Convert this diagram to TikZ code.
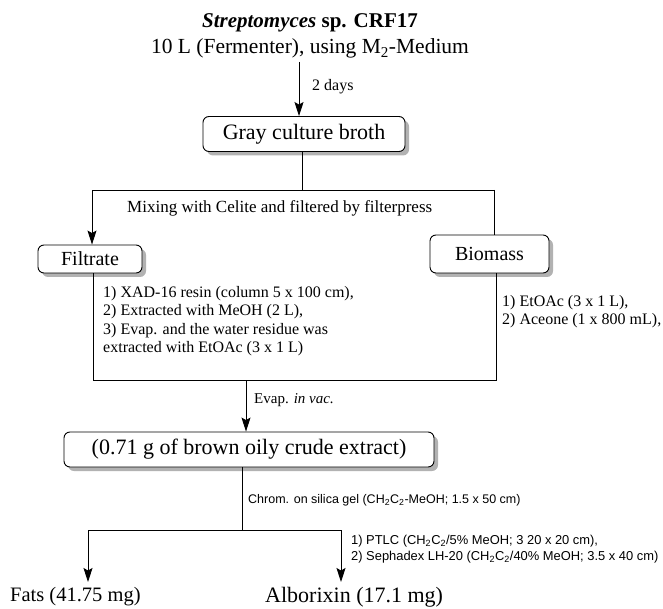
\documentclass[tikz,border=0pt]{standalone}
\usepackage{fontspec}
\setmainfont{Liberation Serif}
\newfontfamily\arialf{Liberation Sans}
\usetikzlibrary{arrows.meta,shadows}
\tikzset{
  ln/.style={line width=0.9pt},
  arr/.style={ln,-{Stealth[length=14pt,width=9pt,inset=2.5pt]}},
  rbox/.style={draw,ln,rounded corners=6pt,fill=white,inner sep=0pt,
    drop shadow={shadow xshift=4pt,shadow yshift=-4pt,fill=black!30,opacity=1}},
  lbl/.style={inner sep=0pt},
}
\newcommand{\fs}[2]{\fontsize{#1}{#2}\selectfont}
\begin{document}
\begin{tikzpicture}[x=1pt,y=-1pt]
\useasboundingbox (0,0) rectangle (663,609);
% top texts
\node[lbl,anchor=base] (title) at (310,28) {\fs{21}{24}\textbf{\textit{Streptomyces} sp. CRF17}};
\node[lbl,anchor=base] (medium) at (310,54) {\fs{21.5}{24}10 L (Fermenter), using M\textsubscript{2}-Medium};
% boxes
\node[rbox,minimum width=202pt,minimum height=35pt] (broth) at (304,134) {\fs{22}{24}Gray culture broth};
\node[rbox,minimum width=104pt,minimum height=28pt] (filtrate) at (90,259) {\fs{20}{22}Filtrate\hspace{6pt}};
\node[rbox,minimum width=119pt,minimum height=38pt] (biomass) at (489.5,254) {\fs{20}{22}Biomass};
\node[rbox,minimum width=370pt,minimum height=35pt] (crude) at (249,449.5) {\fs{22}{24}(0.71 g of brown oily crude extract)\hspace{8pt}};
% coordinates
\coordinate (a1) at (299,62);
\coordinate (jL) at (92,190);
\coordinate (jR) at (494,190);
\coordinate (bL) at (93,380);
\coordinate (bR) at (496,380);
\coordinate (e1) at (246,380);
\coordinate (k) at (242,530);
\coordinate (kL) at (88,530);
\coordinate (kR) at (341,530);
% bottom texts
\node[lbl,anchor=north west] (fats) at (10,587) {\fs{20.5}{22}Fats (41.75 mg)};
\node[lbl,anchor=north west] (alb) at (265,587) {\fs{22}{24}Alborixin (17.1 mg)};
% connectors
\draw[arr] (a1) -- (a1 |- broth.north);
\draw[ln] (broth.south -| 302,0) -- (302,190);
\draw[arr] (jR) -- (jL) -- (jL |- filtrate.north);
\draw[ln] (jR) -- (jR |- biomass.north);
\draw[ln] (bL |- filtrate.south) -- (bL) -- (bR) -- (bR |- biomass.south);
\draw[arr] (e1) -- (e1 |- crude.north);
\draw[ln] (k |- crude.south) -- (k);
\draw[arr] (k) -- (kL) -- (kL |- 0,582);
\draw[arr] (k) -- (kR) -- (kR |- 0,582);
% labels
\node[lbl,anchor=west] (days) at (312,87) {\fs{16}{18}2 days};
\node[lbl,anchor=west] (mix) at (127,208) {\fs{17}{19}Mixing with Celite and filtered by filterpress};
\node[lbl,anchor=north west,align=left,font={\fs{16}{18.5}}] (ftext) at (103,286) {1) XAD-16 resin (column 5 x 100 cm),\\2) Extracted with MeOH (2 L),\\3) Evap. and the water residue was\\extracted with EtOAc (3 x 1 L)};
\node[lbl,anchor=north west,align=left,font={\fs{16}{18.5}}] (btext) at (502,295) {1) EtOAc (3 x 1 L),\\2) Aceone (1 x 800 mL),};
\node[lbl,anchor=west] (evap) at (254,400) {\fs{15}{17}Evap. \textit{in vac.}};
\node[lbl,anchor=west,font={\arialf\fs{12.5}{14}}] (chrom) at (248,500) {Chrom. on silica gel (CH\textsubscript{2}C\textsubscript{2}-MeOH; 1.5 x 50 cm)};
\node[lbl,anchor=north west,align=left,font={\arialf\fs{12.9}{15.5}}] (ptlc) at (351,535) {1) PTLC (CH\textsubscript{2}C\textsubscript{2}/5\% MeOH; 3 20 x 20 cm),\\2) Sephadex LH-20 (CH\textsubscript{2}C\textsubscript{2}/40\% MeOH; 3.5 x 40 cm)};
\end{tikzpicture}
\end{document}
